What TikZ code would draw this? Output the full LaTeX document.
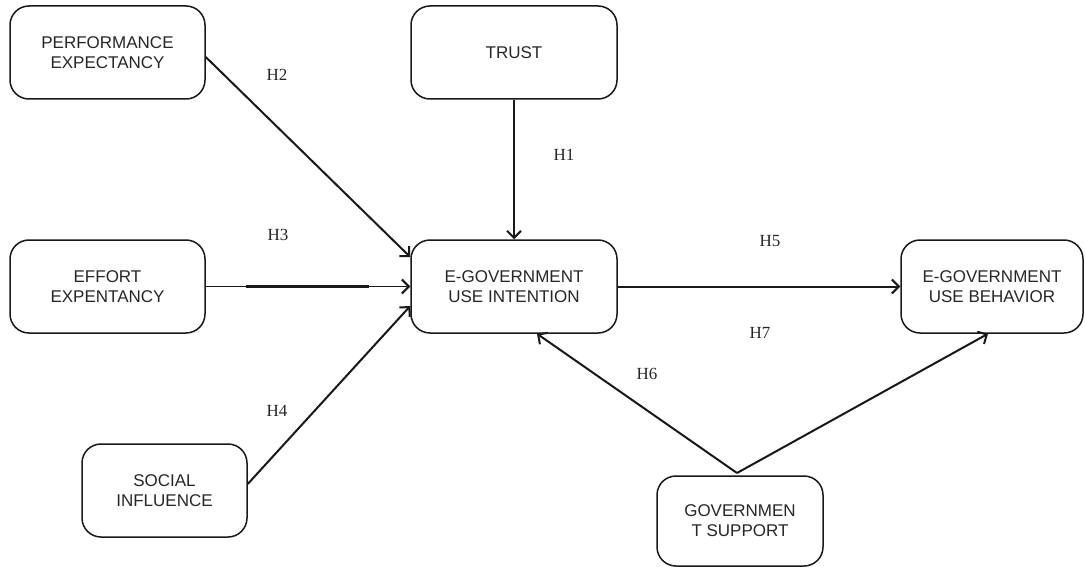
\documentclass[tikz,border=0pt]{standalone}
\usepackage{fontspec}
\setmainfont{Liberation Serif}
\newfontfamily\boxfont{Liberation Sans}
\usetikzlibrary{arrows.meta}

\tikzset{
  construct/.style={draw=black!90, line width=1.5pt, rounded corners=19pt,
    align=center, inner sep=0pt,
    font=\boxfont\fontsize{17}{20}\selectfont, text=black!85},
  hyp/.style={font=\fontsize{17}{20}\selectfont, text=black!85, inner sep=0pt},
  link/.style={draw=black!90, line width=2pt,
    -{Straight Barb[length=7pt, width=14pt, line width=2pt]}},
}

\begin{document}
\begin{tikzpicture}[x=1pt, y=-1pt]
  \useasboundingbox (0,0) rectangle (1086,567);

  % constructs
  \node[construct, minimum width=195pt, minimum height=93pt] (pe)   at (107.5,52.5) {PERFORMANCE\\EXPECTANCY};
  \node[construct, minimum width=206pt, minimum height=93pt] (trust) at (514,52.5) {TRUST};
  \node[construct, minimum width=195pt, minimum height=93pt] (ee)   at (107.5,286.5) {EFFORT\\EXPENTANCY};
  \node[construct, minimum width=206pt, minimum height=93pt] (egui) at (514,286.5) {E-GOVERNMENT\\USE INTENTION};
  \node[construct, minimum width=182pt, minimum height=93pt] (egub) at (992,286.5) {E-GOVERNMENT\\USE BEHAVIOR};
  \node[construct, minimum width=165pt, minimum height=93pt] (si)   at (164.5,490.5) {SOCIAL\\INFLUENCE};
  \node[construct, minimum width=166pt, minimum height=90pt] (gs)   at (740,521) {GOVERNMEN\\T SUPPORT};

  \coordinate (apex) at (737,473);

  % hypothesised paths
  \draw[link] ([yshift=-4.5pt]pe.east) -- ([yshift=29.5pt]egui.west);
  \draw[link] (trust.south) -- (egui.north);
  \draw[link, line width=1.2pt] (ee.east) -- (egui.west);
  \draw[line width=3.2pt, draw=black!90] ([xshift=40pt]ee.east) -- ([xshift=-41pt]egui.west);
  \draw[link] ([yshift=6.5pt]si.east) -- ([yshift=-19.5pt]egui.west);
  \draw[link] (egui.east) -- (egub.west);
  \draw[link] (apex) -- ([xshift=23pt]egui.south);
  \draw[link] (apex) -- ([xshift=-4pt]egub.south);

  % hypothesis labels
  \node[hyp] (h1) at (564,155) {H1};
  \node[hyp] (h2) at (277,75) {H2};
  \node[hyp] (h3) at (278,235) {H3};
  \node[hyp] (h4) at (277,411) {H4};
  \node[hyp] (h5) at (770,241) {H5};
  \node[hyp] (h6) at (647,374) {H6};
  \node[hyp] (h7) at (760,333) {H7};
\end{tikzpicture}
\end{document}
